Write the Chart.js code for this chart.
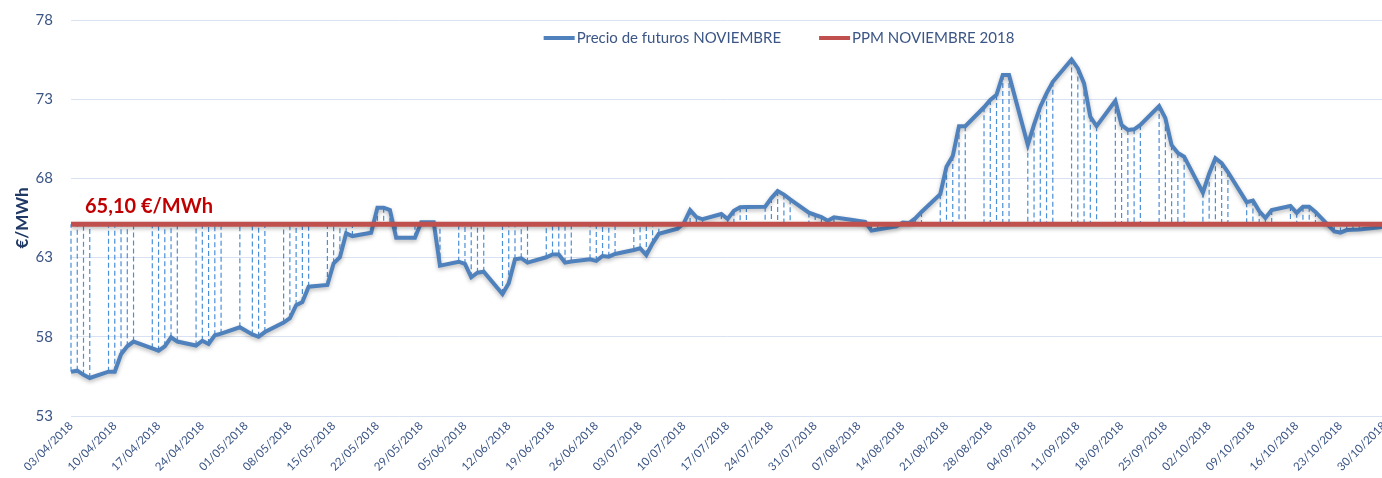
<!DOCTYPE html>
<html lang="es">
<head>
<meta charset="utf-8">
<title>Precio de futuros NOVIEMBRE vs PPM NOVIEMBRE 2018</title>
<script src="https://cdn.jsdelivr.net/npm/chart.js@4.4.1/dist/chart.umd.min.js"></script>
<style>
    html, body { margin: 0; padding: 0; background: #fff; overflow: hidden; }
    #wrap { position: relative; width: 1397px; height: 478px; }
</style>
</head>
<body>
<div id="wrap"><canvas id="futurosChart"></canvas></div>
<script>
// datos (sesiones 2018, dd/mm)
const fechas = [
    '03/04','04/04','05/04','06/04','09/04','10/04','11/04','12/04','13/04',
    '16/04','17/04','18/04','19/04','20/04','23/04','24/04','25/04','26/04','27/04',
    '30/04','02/05','03/05','04/05','07/05','08/05','09/05','10/05','11/05',
    '14/05','15/05','16/05','17/05','18/05','21/05','22/05','23/05','24/05','25/05',
    '28/05','29/05','30/05','31/05','01/06','04/06','05/06','06/06','07/06','08/06',
    '11/06','12/06','13/06','14/06','15/06','18/06','19/06','20/06','21/06','22/06',
    '25/06','26/06','27/06','28/06','29/06','02/07','03/07','04/07','05/07','06/07',
    '09/07','10/07','11/07','12/07','13/07','16/07','17/07','18/07','19/07','20/07',
    '23/07','24/07','25/07','26/07','27/07','30/07','31/07','01/08','02/08','03/08',
    '06/08','07/08','08/08','09/08','10/08','13/08','14/08','15/08','16/08','17/08',
    '20/08','21/08','22/08','23/08','24/08','27/08','28/08','29/08','30/08','31/08',
    '03/09','04/09','05/09','06/09','07/09','10/09','11/09','12/09','13/09','14/09',
    '17/09','18/09','19/09','20/09','21/09','24/09','25/09','26/09','27/09','28/09',
    '01/10','02/10','03/10','04/10','05/10','08/10','09/10','10/10','11/10','12/10',
    '15/10','16/10','17/10','18/10','19/10','22/10','23/10','24/10','25/10','26/10',
    '29/10','30/10'
];
const precioFuturos = [
    55.80, 55.86, 55.60, 55.40, 55.80, 55.80, 56.90, 57.40, 57.70,
    57.27, 57.12, 57.40, 57.97, 57.70, 57.45, 57.75, 57.55, 58.10, 58.20,
    58.60, 58.15, 58.00, 58.30, 58.90, 59.17, 60.00, 60.20, 61.16,
    61.27, 62.64, 63.02, 64.53, 64.36, 64.57, 66.15, 66.15, 66.00, 64.26,
    64.26, 65.23, 65.23, 65.23, 62.49, 62.74, 62.60, 61.76, 62.05, 62.11,
    60.70, 61.38, 62.90, 62.96, 62.68, 63.02, 63.20, 63.20, 62.68, 62.75,
    62.89, 62.79, 63.10, 63.06, 63.23, 63.48, 63.59, 63.16, 63.90, 64.50,
    64.83, 65.18, 66.00, 65.56, 65.42, 65.75, 65.44, 65.95, 66.18, 66.20,
    66.21, 66.76, 67.20, 66.98, 66.68, 65.84, 65.69, 65.56, 65.33, 65.54,
    65.37, 65.31, 65.25, 64.70, 64.77, 64.97, 65.22, 65.18, 65.47, 65.88,
    67.00, 68.74, 69.41, 71.30, 71.30, 72.49, 72.95, 73.27, 74.53, 74.53,
    70.12, 71.40, 72.53, 73.37, 74.10, 75.51, 74.94, 74.00, 71.89, 71.30,
    72.90, 71.37, 71.06, 71.10, 71.37, 72.57, 71.80, 70.10, 69.60, 69.37,
    67.10, 68.30, 69.27, 68.97, 68.40, 66.50, 66.60, 65.94, 65.50, 66.00,
    66.26, 65.83, 66.21, 66.21, 65.88, 64.65, 64.58, 64.74, 64.76, 64.78,
    64.90, 64.96
];
const ppm = 65.10;
const ppmTexto = '65,10 €/MWh';
const ejeY = [53, 58, 63, 68, 73, 78];
const ejeXInicio = '03/04';
const ejeXFin = '30/10';
const pasoDias = 7;
const leyenda = ['Precio de futuros NOVIEMBRE', 'PPM NOVIEMBRE 2018'];

const AZUL = '#4F81BD';
const ROJO = '#C0504D';
const TEXTO = '#3B5585';
const FUENTE = 'Lato, "Open Sans", sans-serif';

// dd/mm -> dias desde el inicio del eje
const base = Date.UTC(2018, 3, 3);
function dia(f) {
    const [d, m] = f.split('/').map(Number);
    return Math.round((Date.UTC(2018, m - 1, d) - base) / 86400000);
}
function etiqueta(v) {
    const f = new Date(base + v * 86400000);
    const dd = String(f.getUTCDate()).padStart(2, '0');
    const mm = String(f.getUTCMonth() + 1).padStart(2, '0');
    return `${dd}/${mm}/${f.getUTCFullYear()}`;
}

const puntos = fechas.map((f, i) => ({ x: dia(f), y: precioFuturos[i] }));
const lineaPpm = [{ x: dia(ejeXInicio), y: ppm }, { x: dia(ejeXFin), y: ppm }];

// lineas verticales discontinuas entre el precio y el PPM
const lineasDiferencia = {
    id: 'lineasDiferencia',
    beforeDatasetsDraw(chart) {
        const { ctx, scales: { y } } = chart;
        const meta = chart.getDatasetMeta(0);
        const yPpm = y.getPixelForValue(ppm);
        ctx.save();
        ctx.strokeStyle = '#4A8FD8';
        ctx.lineWidth = 1.2;
        ctx.setLineDash([5, 3]);
        meta.data.forEach(p => {
            ctx.beginPath();
            ctx.moveTo(p.x, p.y);
            ctx.lineTo(p.x, yPpm);
            ctx.stroke();
        });
        ctx.restore();
    }
};

// sombra suave de las series
const sombra = {
    id: 'sombra',
    beforeDatasetDraw(chart) {
        const ctx = chart.ctx;
        ctx.save();
        ctx.shadowColor = 'rgba(0,0,0,0.28)';
        ctx.shadowBlur = 4;
        ctx.shadowOffsetY = 2;
    },
    afterDatasetDraw(chart) {
        chart.ctx.restore();
    }
};

// leyenda dentro del area y rotulo del PPM
const rotulos = {
    id: 'rotulos',
    afterDraw(chart) {
        const { ctx, chartArea, scales: { y } } = chart;
        ctx.save();
        ctx.font = `bold 20px ${FUENTE}`;
        ctx.fillStyle = '#C00000';
        ctx.textBaseline = 'middle';
        ctx.fillText(ppmTexto, chartArea.left + 14, y.getPixelForValue(ppm) - 18);

        ctx.font = `15px ${FUENTE}`;
        const colores = [AZUL, ROJO];
        const caja = 31, sep = 2, hueco = 38;
        const anchos = leyenda.map(t => caja + sep + ctx.measureText(t).width);
        const total = anchos.reduce((a, b) => a + b, 0) + hueco;
        let x = 779 - total / 2;
        const yL = chartArea.top + 18;
        leyenda.forEach((t, i) => {
            ctx.fillStyle = colores[i];
            ctx.fillRect(x, yL - 2, caja, 4);
            ctx.fillStyle = TEXTO;
            ctx.fillText(t, x + caja + sep, yL);
            x += anchos[i] + hueco;
        });
        ctx.restore();
    }
};

new Chart(document.getElementById('futurosChart'), {
    type: 'line',
    data: {
        datasets: [
            {
                label: leyenda[0],
                data: puntos,
                borderColor: AZUL,
                backgroundColor: AZUL,
                borderWidth: 4,
                pointRadius: 0,
                tension: 0,
                order: 2
            },
            {
                label: leyenda[1],
                data: lineaPpm,
                borderColor: ROJO,
                backgroundColor: ROJO,
                borderWidth: 5,
                pointRadius: 0,
                order: 1
            }
        ]
    },
    options: {
        responsive: true,
        maintainAspectRatio: false,
        animation: false,
        layout: { padding: { top: 20, left: 0, right: 0, bottom: 0 } },
        plugins: {
            legend: { display: false },
            tooltip: { enabled: false }
        },
        scales: {
            x: {
                type: 'linear',
                min: dia(ejeXInicio),
                max: dia(ejeXFin),
                grid: { display: false, drawTicks: false },
                border: { display: false },
                ticks: {
                    stepSize: pasoDias,
                    autoSkip: false,
                    minRotation: 45,
                    maxRotation: 45,
                    padding: 3,
                    color: TEXTO,
                    font: { family: FUENTE, size: 11.5 },
                    callback: v => etiqueta(v)
                },
                afterFit: s => { s.height = 62; }
            },
            y: {
                min: ejeY[0],
                max: ejeY[ejeY.length - 1],
                afterBuildTicks: s => { s.ticks = ejeY.map(v => ({ value: v })); },
                grid: { color: '#D9E2F3', lineWidth: 1, drawTicks: false },
                border: { display: false },
                ticks: {
                    padding: 18,
                    color: TEXTO,
                    font: { family: FUENTE, size: 15 },
                    callback: v => v
                },
                title: {
                    display: true,
                    text: '€/MWh',
                    color: '#1F3864',
                    font: { family: FUENTE, size: 17, weight: 'bold' },
                    padding: { top: 12, bottom: 0 }
                },
                afterFit: s => {
                    s.width = 71;
                    s.paddingTop = 0;
                    s.paddingBottom = 0;
                }
            }
        }
    },
    plugins: [lineasDiferencia, sombra, rotulos]
});
</script>
</body>
</html>
